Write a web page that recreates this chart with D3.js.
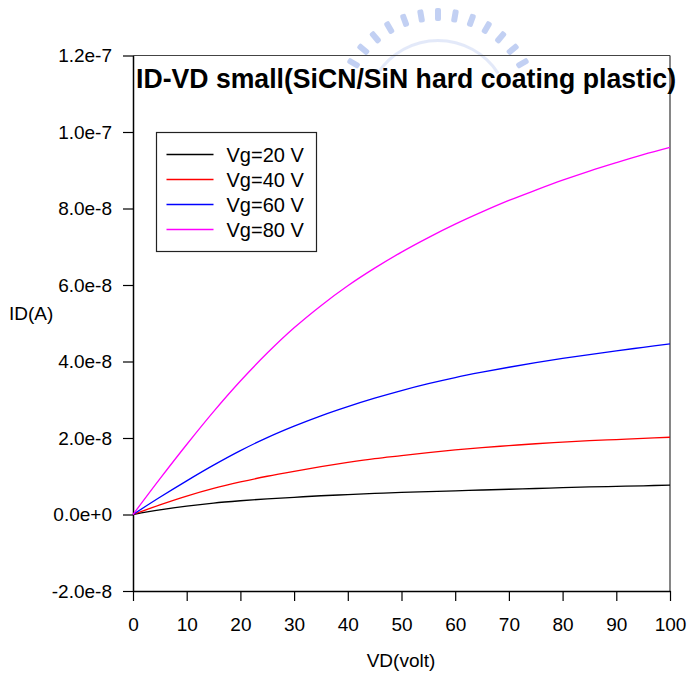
<!DOCTYPE html>
<html lang="en">
<head>
<meta charset="utf-8">
<title>ID-VD</title>
<script src="https://d3js.org/d3.v7.min.js"></script>
<style>
  body { margin: 0; background: #fff; }
  svg text { font-family: "Liberation Sans", Arial, sans-serif; }
</style>
</head>
<body>
<div id="chart"></div>
<script>
// data (ID in units of 1e-8 A)
var vd = [0, 5, 10, 15, 20, 25, 30, 35, 40, 45, 50, 55, 60, 65, 70, 75, 80, 85, 90, 95, 100];
var id20 = [0, 0.12, 0.22, 0.30, 0.36, 0.41, 0.45, 0.49, 0.52, 0.55, 0.58, 0.60, 0.62, 0.64, 0.66, 0.68, 0.70, 0.72, 0.735, 0.75, 0.77];
var id40 = [0, 0.25, 0.48, 0.68, 0.85, 1.00, 1.13, 1.25, 1.36, 1.46, 1.54, 1.62, 1.69, 1.75, 1.80, 1.85, 1.89, 1.93, 1.96, 1.99, 2.02];
var id60 = [0, 0.45, 0.88, 1.29, 1.67, 2.01, 2.31, 2.58, 2.82, 3.04, 3.24, 3.42, 3.58, 3.72, 3.85, 3.97, 4.08, 4.18, 4.28, 4.37, 4.46];
var id80 = [0, 0.93, 1.83, 2.69, 3.49, 4.22, 4.88, 5.46, 5.98, 6.44, 6.86, 7.24, 7.59, 7.91, 8.21, 8.48, 8.74, 8.98, 9.20, 9.41, 9.60];
var seriesNames = ["Vg=20 V", "Vg=40 V", "Vg=60 V", "Vg=80 V"];
var seriesColors = ["#000000", "#ff0000", "#0000ff", "#ff00ff"];
var xTicks = [0, 10, 20, 30, 40, 50, 60, 70, 80, 90, 100];
var yTicks = [-2e-8, 0, 2e-8, 4e-8, 6e-8, 8e-8, 1e-7, 1.2e-7];
var yTickLabels = ["-2.0e-8", "0.0e+0", "2.0e-8", "4.0e-8", "6.0e-8", "8.0e-8", "1.0e-7", "1.2e-7"];

var w = 692, h = 675;
var margin = {top: 55.5, right: 22, bottom: 84, left: 133};
var width = w - margin.left - margin.right,
    height = h - margin.top - margin.bottom;

var svg = d3.select("#chart").append("svg")
    .attr("width", w)
    .attr("height", h);

// faint watermark logo behind the title
var wm = svg.append("g").attr("fill", "#a9bdee").attr("opacity", 0.7);
d3.range(13).forEach(function (i) {
  var a = -60 + i * 10;
  var r = a * Math.PI / 180;
  wm.append("rect")
      .attr("x", -3).attr("y", -12)
      .attr("width", 6).attr("height", 13)
      .attr("rx", 2)
      .attr("transform", "translate(" + (438 + 92 * Math.sin(r)) + "," + (112 - 92 * Math.cos(r)) + ") rotate(" + a + ")");
});
wm.append("path")
    .attr("d", d3.arc()({innerRadius: 70, outerRadius: 73, startAngle: -1.0, endAngle: 1.0}))
    .attr("transform", "translate(438,112)")
    .attr("opacity", 0.45);

var g = svg.append("g")
    .attr("transform", "translate(" + margin.left + "," + margin.top + ")");

var xScale = d3.scaleLinear().domain([0, 100]).range([0, width]);
var yScale = d3.scaleLinear().domain([-2e-8, 1.2e-7]).range([height, 0]);

// frame top / right
g.append("line").attr("x1", 0).attr("x2", width).attr("y1", 0).attr("y2", 0)
    .attr("stroke", "#444").attr("stroke-width", 1);
g.append("line").attr("x1", width).attr("x2", width).attr("y1", 0).attr("y2", height)
    .attr("stroke", "#444").attr("stroke-width", 1.3);

// axes
var xAxis = g.append("g")
    .attr("transform", "translate(0," + height + ")")
    .call(d3.axisBottom(xScale).tickValues(xTicks).tickSize(10).tickPadding(17).tickSizeOuter(0));
var yAxis = g.append("g")
    .call(d3.axisLeft(yScale).tickValues(yTicks).tickSize(10).tickPadding(11).tickSizeOuter(0)
      .tickFormat(function (d, i) { return yTickLabels[i]; }));

[xAxis, yAxis].forEach(function (a) {
  a.selectAll("path").attr("stroke", "#000").attr("stroke-width", 1.5);
  a.selectAll("line").attr("stroke", "#000").attr("stroke-width", 1.2);
  a.selectAll("text").attr("font-family", "Liberation Sans, Arial, sans-serif")
      .attr("font-size", "19px").attr("fill", "#000");
});

// curves
var allSeries = [id20, id40, id60, id80];
var line = d3.line()
    .x(function (d) { return xScale(d[0]); })
    .y(function (d) { return yScale(d[1] * 1e-8); })
    .curve(d3.curveCatmullRom);

allSeries.forEach(function (s, k) {
  g.append("path")
      .datum(vd.map(function (v, i) { return [v, s[i]]; }))
      .attr("fill", "none")
      .attr("stroke", seriesColors[k])
      .attr("stroke-width", 1.3)
      .attr("d", line);
});

// legend
var legend = g.append("g").attr("transform", "translate(23.5,77)");
legend.append("rect")
    .attr("x", 0).attr("y", 0).attr("width", 160).attr("height", 119)
    .attr("fill", "#fff").attr("stroke", "#222").attr("stroke-width", 1.2);
var items = legend.selectAll("g.item").data(seriesNames).enter().append("g")
    .attr("class", "item")
    .attr("transform", function (d, i) { return "translate(0," + (22 + i * 25) + ")"; });
items.append("line")
    .attr("x1", 10).attr("x2", 57).attr("y1", 0).attr("y2", 0)
    .attr("stroke", function (d, i) { return seriesColors[i]; })
    .attr("stroke-width", 1.3);
items.append("text")
    .attr("x", 70).attr("y", 0).attr("dy", "0.35em")
    .attr("font-size", "20px")
    .text(function (d) { return d; });

// title
svg.append("text")
    .attr("x", 136).attr("y", 88)
    .attr("font-size", "27px").attr("font-weight", "bold")
    .attr("textLength", 540).attr("lengthAdjust", "spacingAndGlyphs")
    .text("ID-VD small(SiCN/SiN hard coating plastic)");

// axis labels
svg.append("text")
    .attr("x", 401).attr("y", 667)
    .attr("text-anchor", "middle").attr("font-size", "19px")
    .text("VD(volt)");
svg.append("text")
    .attr("x", 9).attr("y", 320)
    .attr("font-size", "19px")
    .text("ID(A)");
</script>
</body>
</html>
